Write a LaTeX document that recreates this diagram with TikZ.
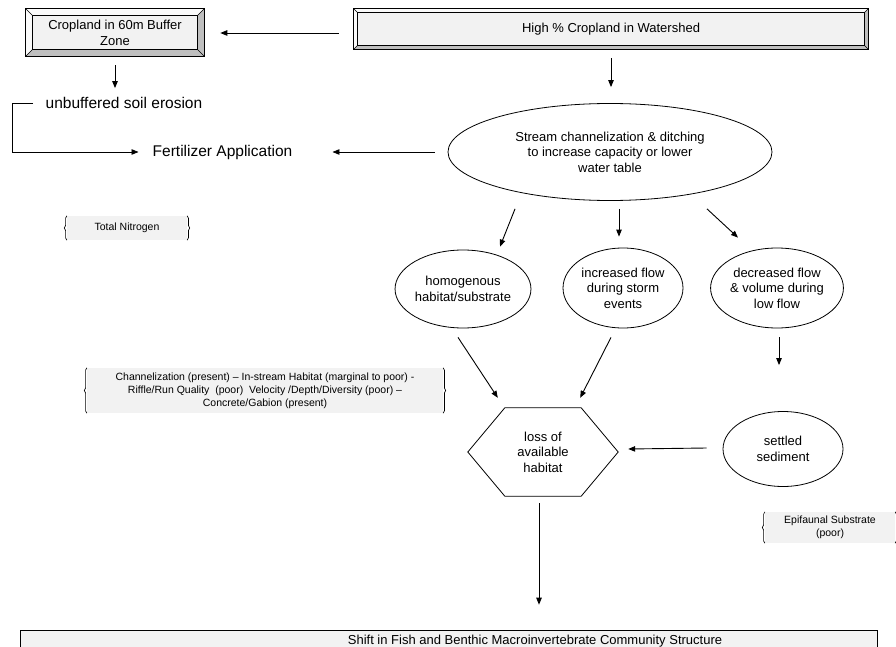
\documentclass[tikz,border=0pt]{standalone}
\usepackage{fontspec}
\setmainfont{Liberation Sans}
\usetikzlibrary{arrows.meta, positioning, shapes.geometric, decorations.pathreplacing}

\begin{document}
\begin{tikzpicture}[
    x=1pt, y=-1pt,
    arrow/.style={-{Triangle[length=7pt, width=5.5pt]}, line width=0.9pt},
    bevelbox/.style={rectangle, fill=gray!10, draw, line width=0.6pt, align=center, font=\fontsize{13}{16}\selectfont},
    bracebox/.style={rectangle, fill=gray!10, align=center, inner sep=0pt, font=\fontsize{10.5}{13}\selectfont},
    brace/.style={draw, line width=0.6pt, decorate, decoration={brace, amplitude=2.5pt}},
    oval/.style={ellipse, draw, line width=0.8pt, align=center, inner sep=0pt, font=\fontsize{13}{15.5}\selectfont},
    plain/.style={align=center, inner sep=3pt, font=\fontsize{15.5}{18}\selectfont},
]
    \useasboundingbox (0,0) rectangle (896,647);

    \node[bevelbox, minimum width=178pt, minimum height=47pt] (crop) at (115,32.5) {Cropland in 60m Buffer\\Zone};
    \node[bevelbox, minimum width=514pt, minimum height=40pt] (high) at (611,29) {High \% Cropland in Watershed};
    \foreach \n/\b in {crop/7, high/4} {
        \fill[gray!4] (\n.north west) -- (\n.north east) -- ([shift={(-\b,\b)}]\n.north east) -- ([shift={(\b,\b)}]\n.north west) -- ([shift={(\b,-\b)}]\n.south west) -- (\n.south west) -- cycle;
        \fill[gray!50] (\n.south west) -- (\n.south east) -- (\n.north east) -- ([shift={(-\b,\b)}]\n.north east) -- ([shift={(-\b,-\b)}]\n.south east) -- ([shift={(\b,-\b)}]\n.south west) -- cycle;
        \draw[line width=0.6pt] (\n.north west) rectangle (\n.south east);
        \draw[line width=0.5pt] ([shift={(\b,\b)}]\n.north west) rectangle ([shift={(-\b,-\b)}]\n.south east);
        \draw[line width=0.5pt] (\n.north west) -- ([shift={(\b,\b)}]\n.north west)
            (\n.north east) -- ([shift={(-\b,\b)}]\n.north east)
            (\n.south west) -- ([shift={(\b,-\b)}]\n.south west)
            (\n.south east) -- ([shift={(-\b,-\b)}]\n.south east);
    }

    \node[plain] (erosion) at (124,103) {unbuffered soil erosion};
    \node[plain] (fert) at (222.5,152) {Fertilizer Application};
    \node[oval, minimum width=324pt, minimum height=97pt] (stream) at (610,152) {Stream channelization \& ditching\\to increase capacity or lower\\water table};

    \node[oval, minimum width=120pt, minimum height=78pt] (homog) at (463,289) {homogenous\\habitat/substrate};
    \node[oval, minimum width=120pt, minimum height=80pt] (stormflow) at (623,288) {increased flow\\during storm\\events};
    \node[oval, minimum width=121pt, minimum height=80pt] (lowflow) at (777,288) {decreased flow\\\& volume during\\low flow};
    \node[oval, minimum width=120pt, minimum height=75pt] (sediment) at (783,449) {settled\\sediment};

    \node[rectangle, minimum width=150pt, minimum height=88pt, inner sep=0pt, align=center, font=\fontsize{13}{15.5}\selectfont] (habitat) at (543,452) {loss of\\available\\habitat};
    \draw[line width=0.8pt] (habitat.west) -- ([xshift=37pt]habitat.north west) -- ([xshift=-37pt]habitat.north east) -- (habitat.east) -- ([xshift=-37pt]habitat.south east) -- ([xshift=37pt]habitat.south west) -- cycle;

    \node[bracebox, minimum width=120pt, minimum height=24pt] (nitrogen) at (127,228) {Total Nitrogen};
    \node[bracebox, minimum width=356pt, minimum height=45pt] (chan) at (265,390.5) {Channelization (present) – In-stream Habitat (marginal to poor) -\\Riffle/Run Quality\ \ (poor)\ \ Velocity /Depth/Diversity (poor) –\\Concrete/Gabion (present)};
    \node[bracebox, minimum width=130pt, minimum height=31pt] (epifauna) at (830,527.5) {Epifaunal Substrate\\(poor)};
    \foreach \n in {nitrogen, chan, epifauna} {
        \draw[brace] (\n.south west) -- (\n.north west);
        \draw[brace] (\n.north east) -- (\n.south east);
    }

    \node[rectangle, fill=gray!10, draw, line width=0.6pt, minimum width=857pt, minimum height=40pt] (base) at (448.5,650) {};
    \node[font=\fontsize{13}{15.5}\selectfont] (shift) at (535,641) {Shift in Fish and Benthic Macroinvertebrate Community Structure};

    \draw[arrow] ([shift={(-15,4)}]high.west) -- ([shift={(16,0.5)}]crop.east);
    \draw[arrow] ([yshift=-9pt]crop.south) -- ([yshift=6pt]crop.south |- erosion.north);
    \draw[arrow] ([xshift=-9.5pt]erosion.west) -- ++(-21,0) |- ([xshift=-11pt]fert.west);
    \draw[arrow] ([xshift=-13pt]stream.west) -- ([xshift=37pt]fert.east);
    \draw[arrow] ([yshift=-9pt]high.south) -- ([yshift=16pt]high.south |- stream.north);
    \draw[arrow] ([shift={(-95,8)}]stream.south) -- ([shift={(37,-3)}]homog.north);
    \draw[arrow] ([shift={(9,8)}]stream.south) -- ([shift={(-4,-11)}]stormflow.north);
    \draw[arrow] ([shift={(97,8)}]stream.south) -- ([shift={(-39,-10)}]lowflow.north);
    \draw[arrow] ([shift={(-5,9)}]homog.south) -- ([shift={(30,-10)}]habitat.north west);
    \draw[arrow] ([shift={(-12,9)}]stormflow.south) -- ([shift={(-38,-10)}]habitat.north east);
    \draw[arrow] ([shift={(2,9)}]lowflow.south) -- ([xshift=2pt, yshift=46pt]lowflow.south |- sediment.north);
    \draw[arrow] ([shift={(-16,-1)}]sediment.west) -- ([xshift=10pt]habitat.east |- sediment.west);
    \draw[arrow] ([shift={(-4,7)}]habitat.south) -- ([xshift=-4pt, yshift=25pt]habitat.south |- base.north);
\end{tikzpicture}
\end{document}
